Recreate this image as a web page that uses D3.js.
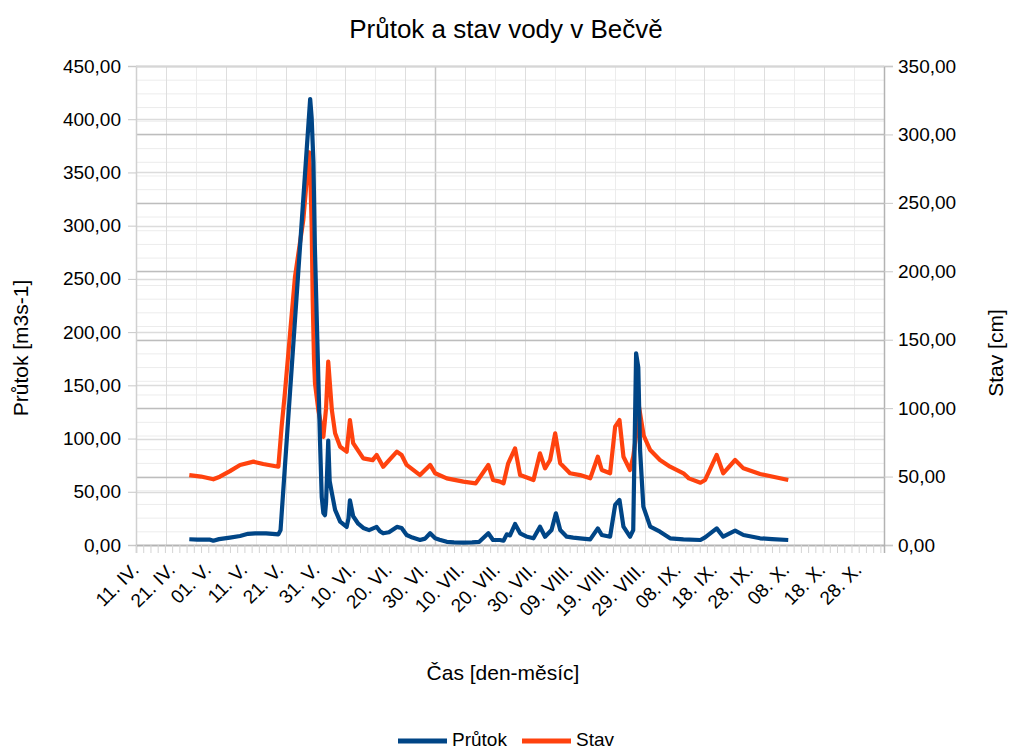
<!DOCTYPE html>
<html>
<head>
<meta charset="utf-8">
<script src="https://cdn.jsdelivr.net/npm/d3@7"></script>
<style>
    body { margin: 0; background: #fff; }
    text { font-family: "Liberation Sans", Arial, sans-serif; fill: #000; }
</style>
</head>
<body>
<div id="chart"></div>
<script>

// time is given in days after 11. IV.
const startDate = Date.UTC(2010, 3, 11);
const endDate = Date.UTC(2010, 10, 4);

const prutokDays = [14.75, 17, 20.5, 21.4, 23, 26, 28.8, 31, 33, 36, 39.4, 40, 48.2, 48.6, 49.1, 49.5, 50.2,
    50.9, 51.4, 51.85, 52.3, 52.6, 53.2, 53.6, 54.2, 55.1, 56.5, 58.3, 58.8, 59.2, 60.1, 61.5, 62.9, 64.5,
    66.6, 67.5, 68.4, 70, 72.2, 73.5, 74.9, 76.5, 78.6, 80, 81.4, 82.8, 84, 86, 88, 90.6, 93, 95, 97.5, 98.8,
    100.7, 101.7, 102.6, 103.5, 104.9, 106.3, 108, 110, 111.8, 113.2, 115, 116.2, 117.4, 119.2, 121, 122.9,
    125.7, 127.8, 128.9, 131.2, 132.6, 133.8, 134.9, 136.7, 137.6, 138.4, 139, 139.5, 140.4, 142.3, 145,
    147.8, 151.5, 156.2, 157.5, 160.7, 162.5, 165.8, 168.1, 172.7, 176, 180.5];
const prutokValues = [5.4, 5, 5, 4, 5.5, 7, 8.5, 10.5, 11, 11, 10, 14, 419, 402, 360, 280, 190,
    100, 45, 30, 28, 40, 98, 60, 49, 33, 22, 17, 25, 42, 27, 20, 16, 14,
    17, 13, 11, 12, 17, 16, 9.4, 7, 4.7, 6, 11, 6.3, 5, 3, 2.5, 2.2, 2.5, 3, 11, 4.7,
    4.7, 4, 10, 9, 19.7, 11, 8, 6.3, 17.2, 7.8, 14, 29.8, 14, 7.8, 7, 6.3,
    5.3, 15.6, 9.4, 7.8, 37.6, 42.3, 17.2, 7.8, 14, 180, 167, 89, 36, 17.2, 12.5,
    6.3, 5.3, 4.7, 7.2, 15.6, 7.8, 13.5, 9.4, 6.3, 5.5, 4.7];

const stavDays = [14.75, 18, 21.4, 23.2, 26, 28.8, 32.5, 35.2, 39.4, 40.3, 41.2, 44, 46.3, 47.9, 48.3,
    48.62, 48.9, 49.27, 49.54, 50.46, 51.85, 52.6, 53.2, 54.2, 55.1, 56.5, 58.3, 59.2, 60.1, 62.9, 65.5,
    66.6, 68.4, 72.2, 73.5, 74.9, 78.6, 81.4, 82.8, 86, 90.6, 94, 97.5, 98.8, 100.7, 101.7, 103, 104.9,
    106.3, 110, 111.8, 113.2, 114.6, 116, 117.4, 120.1, 122.9, 125.7, 127.8, 128.9, 131.2, 132.6, 133.8,
    134.9, 136.7, 137.6, 138.4, 139.2, 140.5, 142.3, 145, 147.8, 151.5, 153, 156.2, 157.5, 160.7, 162.5,
    165.8, 168.1, 172.7, 176, 180.5];
const stavValues = [51.1, 50, 48, 49.9, 54, 58.5, 60.9, 59.2, 57.2, 86.5, 111, 196, 237.5, 287, 265,
    232.6, 179, 135, 118, 98.6, 79, 100, 134, 98.6, 81.6, 71.8, 68.2, 91.3, 74.4, 63.3, 62,
    65.8, 57.2, 68.2, 65.8, 58.5, 51.1, 58.5, 52.4, 48.7, 46.3, 45, 58.5, 47.5, 46.3, 45, 59.7, 70.6,
    51.1, 47.5, 67, 56, 62.1, 81.6, 59.7, 52.4, 51.1, 48.7, 64.5, 54.8, 52.4, 86.5, 91.3,
    64.5, 54.8, 64.5, 80, 101, 80, 69.4, 62.1, 57.2, 52.4, 48.7, 45.5, 47.5, 65.8, 52.4,
    62.1, 56, 51.9, 50, 47.5];

const leftTicks = [0, 50, 100, 150, 200, 250, 300, 350, 400, 450];
const rightTicks = [0, 50, 100, 150, 200, 250, 300, 350];
const monthNames = ["I.", "II.", "III.", "IV.", "V.", "VI.", "VII.", "VIII.", "IX.", "X.", "XI.", "XII."];

const chartTitle = "Průtok a stav vody v Bečvě";
const xTitle = "Čas [den-měsíc]";
const leftTitle = "Průtok [m3s-1]";
const rightTitle = "Stav [cm]";
const seriesNames = ["Průtok", "Stav"];


class FlowVis {

    constructor(_parentElement) {
        this.parentElement = _parentElement;
        this.initVis();
    }

    initVis() {
        let vis = this;

        vis.margin = {top: 66, right: 125, bottom: 204, left: 136};
        vis.width = 1009 - vis.margin.left - vis.margin.right;
        vis.height = 749 - vis.margin.top - vis.margin.bottom;

        vis.colors = {blue: '#004586', orange: '#ff420e'};

        vis.svgRoot = d3.select("#" + vis.parentElement).append("svg")
            .attr("width", 1009)
            .attr("height", 749);

        vis.svg = vis.svgRoot.append("g")
            .attr("transform", "translate(" + vis.margin.left + "," + vis.margin.top + ")");

        // scales
        vis.x = d3.scaleUtc()
            .domain([new Date(startDate), new Date(endDate)])
            .range([0, vis.width]);

        vis.yLeft = d3.scaleLinear()
            .domain([0, 450])
            .range([vis.height, 0]);

        vis.yRight = d3.scaleLinear()
            .domain([0, 350])
            .range([vis.height, 0]);

        // vertical grid is split in 25 parts
        vis.xGrid = d3.scaleLinear()
            .domain([0, 25])
            .range([0, vis.width]);

        vis.toDate = d => new Date(startDate + d * 864e5);

        vis.drawGrid();
        vis.drawAxes();
        vis.drawLines();
        vis.drawTexts();
    }

    drawGrid() {
        let vis = this;
        let grid = vis.svg.append("g").attr("class", "grid");

        // fine lines of the right axis
        grid.selectAll(".minor-h")
            .data(d3.range(0, 351, 10))
            .enter().append("line")
            .attr("x1", 0).attr("x2", vis.width)
            .attr("y1", d => vis.yRight(d) + 0.5)
            .attr("y2", d => vis.yRight(d) + 0.5)
            .attr("stroke", "#ececec");

        grid.selectAll(".vert")
            .data(d3.range(0, 26))
            .enter().append("line")
            .attr("x1", d => Math.round(vis.xGrid(d)) + 0.5)
            .attr("x2", d => Math.round(vis.xGrid(d)) + 0.5)
            .attr("y1", 0).attr("y2", vis.height)
            .attr("stroke", d => {
                if (d === 10) {return "#c6c6c6"}
                else if (d % 2 === 1) {return "#dedede"}
                else {return "#ececec"}
            })
            .attr("stroke-width", d => d === 10 ? 1.5 : 1);

        grid.selectAll(".left-h")
            .data(leftTicks)
            .enter().append("line")
            .attr("x1", 0).attr("x2", vis.width)
            .attr("y1", d => Math.round(vis.yLeft(d)) + 0.5)
            .attr("y2", d => Math.round(vis.yLeft(d)) + 0.5)
            .attr("stroke", "#dcdcdc")
            .attr("stroke-width", 1.3);

        grid.selectAll(".right-h")
            .data(rightTicks)
            .enter().append("line")
            .attr("x1", 0).attr("x2", vis.width)
            .attr("y1", d => Math.round(vis.yRight(d)) + 0.5)
            .attr("y2", d => Math.round(vis.yRight(d)) + 0.5)
            .attr("stroke", "#bdbdbd")
            .attr("stroke-width", 1.3);
    }

    drawAxes() {
        let vis = this;
        let fmt = d3.format(".2f");
        let comma = d => fmt(d).replace(".", ",");

        vis.yAxisLeft = d3.axisLeft(vis.yLeft)
            .tickValues(leftTicks)
            .tickSize(8)
            .tickPadding(7)
            .tickFormat(comma);

        vis.yAxisRight = d3.axisRight(vis.yRight)
            .tickValues(rightTicks)
            .tickSize(9)
            .tickPadding(5)
            .tickFormat(comma);

        // every second day a small tick
        vis.xAxis = d3.axisBottom(vis.x)
            .ticks(d3.utcDay.every(1))
            .tickSize(8)
            .tickFormat("");

        let left = vis.svg.append("g")
            .attr("class", "y-axis-left axis")
            .call(vis.yAxisLeft);

        let right = vis.svg.append("g")
            .attr("class", "y-axis-right axis")
            .attr("transform", "translate(" + vis.width + ",0)")
            .call(vis.yAxisRight);

        let bottom = vis.svg.append("g")
            .attr("class", "x-axis axis")
            .attr("transform", "translate(0," + vis.height + ")")
            .call(vis.xAxis);

        bottom.selectAll(".tick")
            .filter(d => Math.round((d - startDate) / 864e5) % 2 !== 0)
            .remove();

        [left, right, bottom].forEach(ax => {
            ax.select(".domain").attr("stroke", "#b3b3b3").attr("stroke-width", 1.5);
            ax.selectAll(".tick line").attr("stroke", "#c8c8c8");
            ax.selectAll(".tick text")
                .style("font-family", '"Liberation Sans", Arial, sans-serif')
                .style("font-size", "19px")
                .attr("fill", "#000");
        });
        left.select(".domain").attr("stroke", "#d0d0d0");
        bottom.selectAll(".tick line").attr("stroke", "#d4d4d4");

        // top border
        vis.svg.append("line")
            .attr("x1", 0).attr("x2", vis.width)
            .attr("y1", 0.5).attr("y2", 0.5)
            .attr("stroke", "#d6d6d6")
            .attr("stroke-width", 1.5);

        // date labels every 10 days
        let labelDates = d3.utcDay.range(new Date(startDate), new Date(endDate), 10);
        vis.svg.append("g")
            .attr("class", "x-labels")
            .selectAll("text")
            .data(labelDates)
            .enter().append("text")
            .attr("transform", d => "translate(" + (vis.x(d) + 4) + "," + (vis.height + 26) + ") rotate(-45)")
            .attr("text-anchor", "end")
            .style("font-size", "19px")
            .text(d => d3.utcFormat("%d")(d) + ". " + monthNames[d.getUTCMonth()]);
    }

    drawLines() {
        let vis = this;

        let stavData = stavDays.map((d, i) => ({date: vis.toDate(d), value: stavValues[i]}));
        let prutokData = prutokDays.map((d, i) => ({date: vis.toDate(d), value: prutokValues[i]}));

        let lineStav = d3.line()
            .x(d => vis.x(d.date))
            .y(d => vis.yRight(d.value));

        let linePrutok = d3.line()
            .x(d => vis.x(d.date))
            .y(d => vis.yLeft(d.value));

        vis.svg.append("path")
            .datum(stavData)
            .attr("class", "line stav")
            .attr("fill", "none")
            .attr("stroke", vis.colors.orange)
            .attr("stroke-width", 4.2)
            .attr("stroke-linejoin", "round")
            .attr("d", lineStav);

        vis.svg.append("path")
            .datum(prutokData)
            .attr("class", "line prutok")
            .attr("fill", "none")
            .attr("stroke", vis.colors.blue)
            .attr("stroke-width", 4.2)
            .attr("stroke-linejoin", "round")
            .attr("d", linePrutok);
    }

    drawTexts() {
        let vis = this;
        let root = vis.svgRoot;

        root.append("text")
            .attr("x", 506).attr("y", 38)
            .attr("text-anchor", "middle")
            .style("font-size", "26px")
            .text(chartTitle);

        root.append("text")
            .attr("x", 503).attr("y", 680)
            .attr("text-anchor", "middle")
            .style("font-size", "21px")
            .text(xTitle);

        root.append("text")
            .attr("transform", "translate(28,348) rotate(-90)")
            .attr("text-anchor", "middle")
            .style("font-size", "21px")
            .text(leftTitle);

        root.append("text")
            .attr("transform", "translate(1003,353) rotate(-90)")
            .attr("text-anchor", "middle")
            .style("font-size", "21px")
            .text(rightTitle);

        // legend
        let legend = root.append("g").attr("class", "legend");
        let items = [
            {name: seriesNames[0], color: vis.colors.blue, x: 398},
            {name: seriesNames[1], color: vis.colors.orange, x: 522}
        ];
        items.forEach(item => {
            legend.append("line")
                .attr("x1", item.x).attr("x2", item.x + 49)
                .attr("y1", 741).attr("y2", 741)
                .attr("stroke", item.color)
                .attr("stroke-width", 5);
            legend.append("text")
                .attr("x", item.x + 54).attr("y", 746)
                .style("font-size", "19px")
                .text(item.name);
        });
    }
}

new FlowVis("chart");
</script>
</body>
</html>
